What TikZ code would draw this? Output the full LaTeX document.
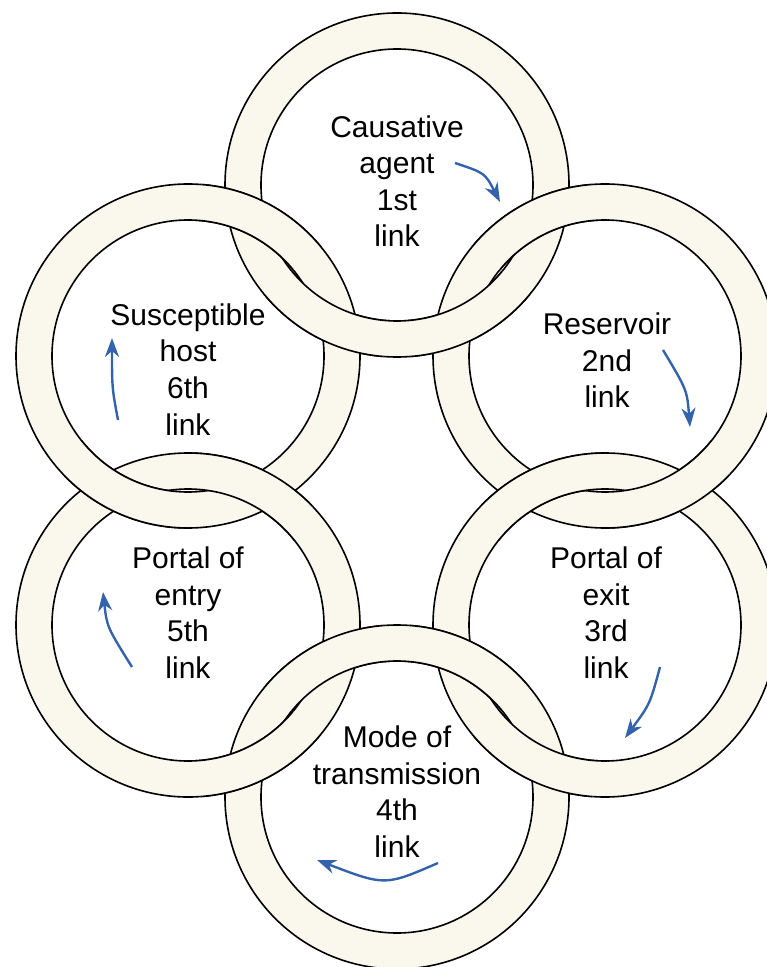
\documentclass[tikz,border=0pt]{standalone}
\usepackage{fontspec}
\setmainfont{Liberation Sans}
\usetikzlibrary{calc,arrows.meta}

\definecolor{ringcream}{HTML}{FAF8EC}
\definecolor{cycleblue}{HTML}{3462AB}

\tikzset{
    ringline/.style = {draw=black, line width=0.8pt},
    linktext/.style = {anchor=base, align=center, inner sep=0pt,
        font=\fontsize{15pt}{18.25pt}\selectfont},
    cyclearrow/.style = {draw=cycleblue, line width=1.2pt,
        -{Stealth[length=9.5pt,width=7pt,inset=3pt]}}
}

% one link of the chain: cream band between two circles
\newcommand{\ringband}[1]{%
    \fill[ringcream, even odd rule] (#1) circle (86pt) (#1) circle (68pt);
    \draw[ringline] (#1) circle (86pt) (#1) circle (68pt);
}

\begin{document}
\begin{tikzpicture}[x=0.5pt, y=-0.5pt]
    \useasboundingbox (0,0) rectangle (766,967);

    \coordinate (causal) at (397,185);
    \coordinate (reservoir) at (605,356);
    \coordinate (exit) at (605,625);
    \coordinate (mode) at (397,797);
    \coordinate (entry) at (188,625);
    \coordinate (host) at (188,356);

    \foreach \r in {causal,reservoir,exit,mode,entry,host}
        \ringband{\r};

    % redraw the upper band on each side of a pair (inner side -90, outer side 90)
    \foreach \p/\q/\a/\o in {causal/reservoir/-90/causal, causal/reservoir/90/reservoir,
            reservoir/exit/-90/exit, reservoir/exit/90/reservoir,
            exit/mode/-90/mode, exit/mode/90/exit,
            mode/entry/-90/mode, mode/entry/90/entry,
            entry/host/-90/entry, entry/host/90/host,
            host/causal/-90/causal, host/causal/90/host}{
        \begin{scope}
            \coordinate (mid) at ($(\p)!0.5!(\q)$);
            \coordinate (fwd) at ($(mid)!25pt!(\q)$);
            \coordinate (back) at ($(mid)!25pt!(\p)$);
            \coordinate (off) at ($(mid)!62pt!\a:(\q)$);
            \clip (back) -- (fwd) -- ($(fwd)+(off)-(mid)$) -- ($(back)+(off)-(mid)$) -- cycle;
            \ringband{\o}
        \end{scope}
    }

    \node[linktext] (causaltxt) at (397,247) {Causative\\agent\\1st\\link};
    \node[linktext] (reservoirtxt) at (607,408) {Reservoir\\2nd\\link};
    \node[linktext] (exittxt) at (606,678) {Portal of\\exit\\3rd\\link};
    \node[linktext] (modetxt) at (397,857) {Mode of\\transmission\\4th\\link};
    \node[linktext] (entrytxt) at (188,678) {Portal of\\entry\\5th\\link};
    \node[linktext] (hosttxt) at (188,435) {Susceptible\\host\\6th\\link};

    % direction of the cycle
    \foreach \s/\c/\e in {{455,163}/{485,173}/{500,202}, {663,350}/{687,390}/{690,427},
            {660,667}/{650,704}/{625,738}, {438,863}/{385,886}/{317,860},
            {132,667}/{107,627}/{103,592}, {118,420}/{112,388}/{112,338}}{
        \draw[cyclearrow] (\s) .. controls (\c) .. (\e);
    }
\end{tikzpicture}
\end{document}
